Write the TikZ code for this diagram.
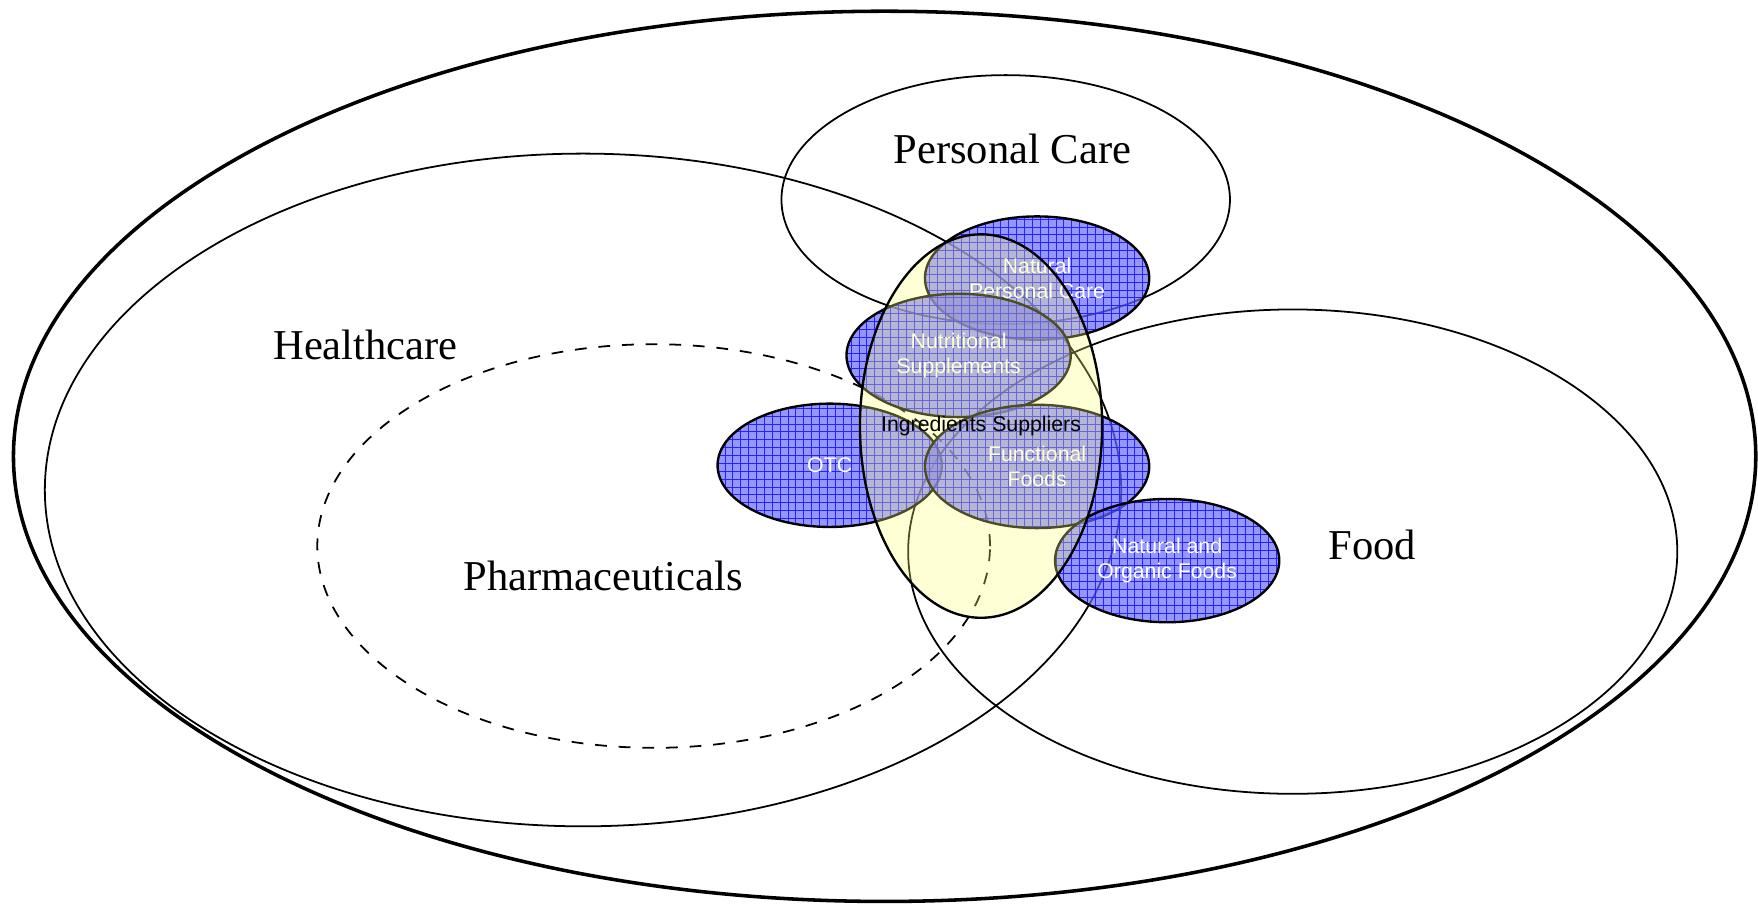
\documentclass[tikz,border=0pt]{standalone}
\usepackage{fontspec}
\setmainfont{Liberation Serif}
\setsansfont{Liberation Sans}
\usetikzlibrary{shapes.geometric, patterns}
\definecolor{myblue}{RGB}{105,105,255}
\definecolor{mygrid}{RGB}{36,36,255}
\definecolor{myyellow}{RGB}{255,255,120}

% fine grid like the slide's hatch fill
\pgfdeclarepatternformonly{finegrid}{\pgfqpoint{-1pt}{-1pt}}{\pgfqpoint{3pt}{3pt}}{\pgfqpoint{2pt}{2pt}}{
    \pgfsetlinewidth{0.25pt}
    \pgfpathmoveto{\pgfqpoint{0pt}{0pt}}\pgfpathlineto{\pgfqpoint{2.1pt}{0pt}}
    \pgfpathmoveto{\pgfqpoint{0pt}{0pt}}\pgfpathlineto{\pgfqpoint{0pt}{2.1pt}}
    \pgfusepath{stroke}}

\tikzset{
    market/.style={draw, line width=0.45pt},
    marketlabel/.style={font=\fontsize{10.8}{13}\selectfont},
    smalltext/.style={font=\fontsize{5.4}{6.3}\selectfont\sffamily, align=center},
    segment/.style={ellipse, draw, line width=0.6pt, inner sep=0pt,
        preaction={fill=myblue, fill opacity=0.7},
        pattern=finegrid, pattern color=mygrid, fill opacity=0.7,
        text opacity=1, text=white, smalltext,
        minimum width=2cm, minimum height=1.1cm},
    supplier/.style={ellipse, draw, line width=0.6pt, inner sep=0pt,
        fill=myyellow, fill opacity=0.3,
        minimum width=2.16cm, minimum height=3.42cm}
}

\begin{document}
\begin{tikzpicture}
    \useasboundingbox (0,0) rectangle (15.68,8.07);

    % Markets
    \draw[line width=0.9pt] (7.89,4.00) ellipse (7.77 and 3.97);
    \draw[market] (5.20,3.70) ellipse (4.80 and 3.00);
    \draw[market] (11.53,3.15) ellipse (3.43 and 2.16);
    \draw[market] (8.97,6.29) ellipse (2.00 and 1.11);
    \draw[market, dashed] (5.83,3.20) ellipse (3.00 and 1.80);

    \node[marketlabel] (personal) at (9.03,6.74) {Personal Care};
    \node[marketlabel] (health) at (3.26,4.99) {Healthcare};
    \node[marketlabel] (pharma) at (5.38,2.93) {Pharmaceuticals};
    \node[marketlabel] (food) at (12.24,3.21) {Food};

    % Product segments
    \node[segment] (npc) at (9.25,5.59) {Natural\\Personal Care};
    \node[segment] (supp) at (8.55,4.90) {Nutritional\\Supplements};
    \node[segment] (otc) at (7.40,3.92) {OTC};
    \node[segment] (ff) at (9.25,3.91) {Functional\\Foods};
    \node[segment] (organic) at (10.41,3.07) {Natural and\\Organic Foods};

    % Suppliers on top
    \node[supplier] (ingr) at (8.75,4.27) {};
    \node[smalltext] (ingrlabel) at (ingr.center) {Ingredients Suppliers};
\end{tikzpicture}
\end{document}
